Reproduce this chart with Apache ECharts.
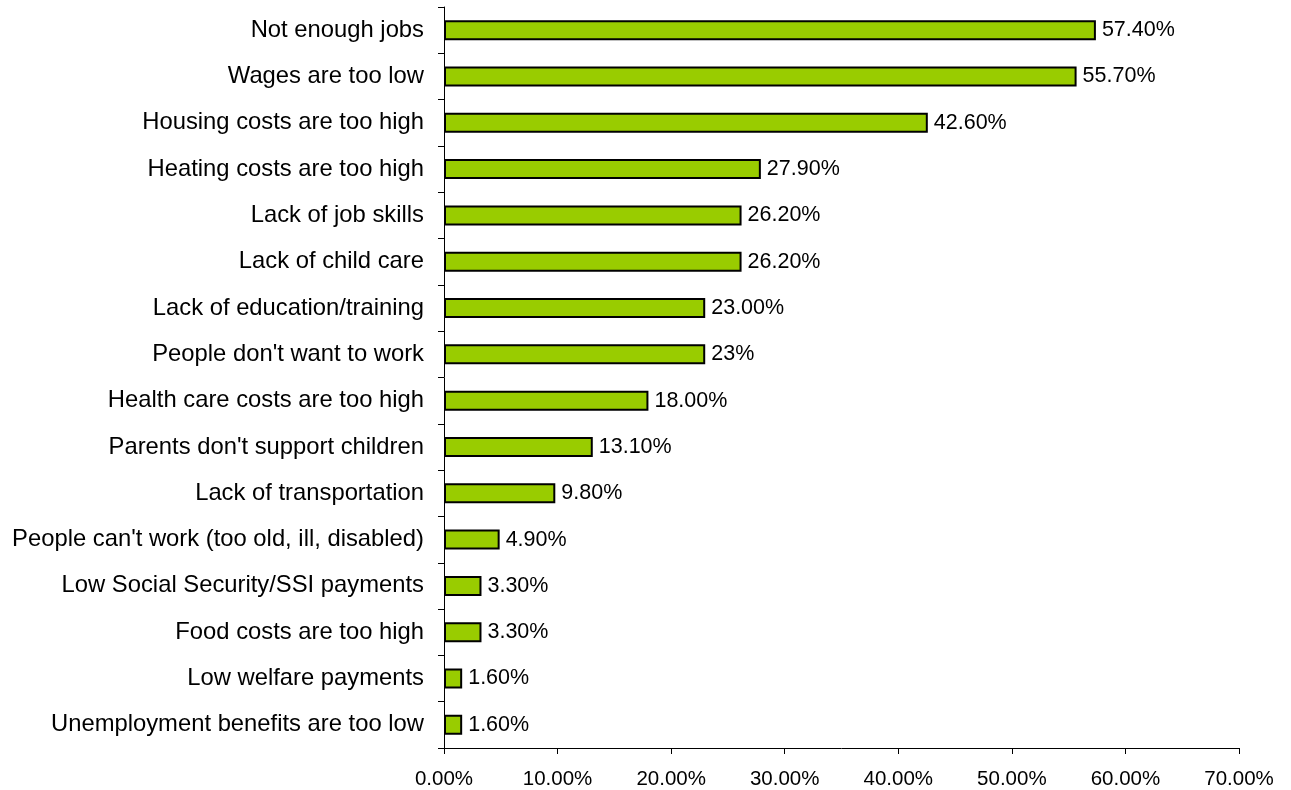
<!DOCTYPE html>
<html>
<head>
<meta charset="utf-8">
<script src="https://cdn.jsdelivr.net/npm/echarts@6/dist/echarts.min.js"></script>
<style>
  html, body { margin: 0; padding: 0; background: #fff; }
  #chart { width: 1291px; height: 790px; }
</style>
</head>
<body>
<div id="chart"></div>
<script>
// Reasons given, listed bottom to top as drawn on the category axis
const categories = [
  "Unemployment benefits are too low",
  "Low welfare payments",
  "Food costs are too high",
  "Low Social Security/SSI payments",
  "People can't work (too old, ill, disabled)",
  "Lack of transportation",
  "Parents don't support children",
  "Health care costs are too high",
  "People don't want to work",
  "Lack of education/training",
  "Lack of child care",
  "Lack of job skills",
  "Heating costs are too high",
  "Housing costs are too high",
  "Wages are too low",
  "Not enough jobs"
];

// Share of respondents (percent)
const values = [1.6, 1.6, 3.3, 3.3, 4.9, 9.8, 13.1, 18.0, 23, 23.0, 26.2, 26.2, 27.9, 42.6, 55.7, 57.4];

// Decimal places shown in each bar's label
const labelDecimals = [2, 2, 2, 2, 2, 2, 2, 2, 0, 2, 2, 2, 2, 2, 2, 2];

// Value axis ticks
const axisMax = 70;
const axisStep = 10;

const chart = echarts.init(document.getElementById('chart'));
const font = 'Arial, "Liberation Sans", sans-serif';

chart.setOption({
  animation: false,
  grid: { left: 444, right: 52, top: 7, bottom: 42, containLabel: false },
  xAxis: {
    type: 'value',
    min: 0,
    max: axisMax,
    interval: axisStep,
    splitLine: { show: false },
    axisLine: { show: true, lineStyle: { color: '#000', width: 1 } },
    axisTick: { show: true, length: 6, lineStyle: { color: '#000' } },
    axisLabel: {
      color: '#000', fontSize: 20.5, fontFamily: font, margin: 21,
      formatter: v => v.toFixed(2) + '%'
    }
  },
  yAxis: {
    type: 'category',
    data: categories,
    axisLine: { show: true, lineStyle: { color: '#000', width: 1 } },
    axisTick: { show: true, length: 6, alignWithLabel: false, lineStyle: { color: '#000' } },
    axisLabel: { color: '#000', fontSize: 23.8, fontFamily: font, margin: 20, padding: [4, 0, 0, 0] }
  },
  series: [{
    type: 'bar',
    data: values.map((v, i) => ({ value: v, dec: labelDecimals[i] })),
    barWidth: 20,
    itemStyle: { color: '#99CC00', borderColor: '#000', borderWidth: 2 },
    label: {
      show: true,
      position: 'right',
      distance: 6,
      color: '#000',
      fontSize: 21.5,
      fontFamily: font,
      padding: [3, 0, 0, 0],
      formatter: p => p.data.value.toFixed(p.data.dec) + '%'
    }
  }]
});
</script>
</body>
</html>
